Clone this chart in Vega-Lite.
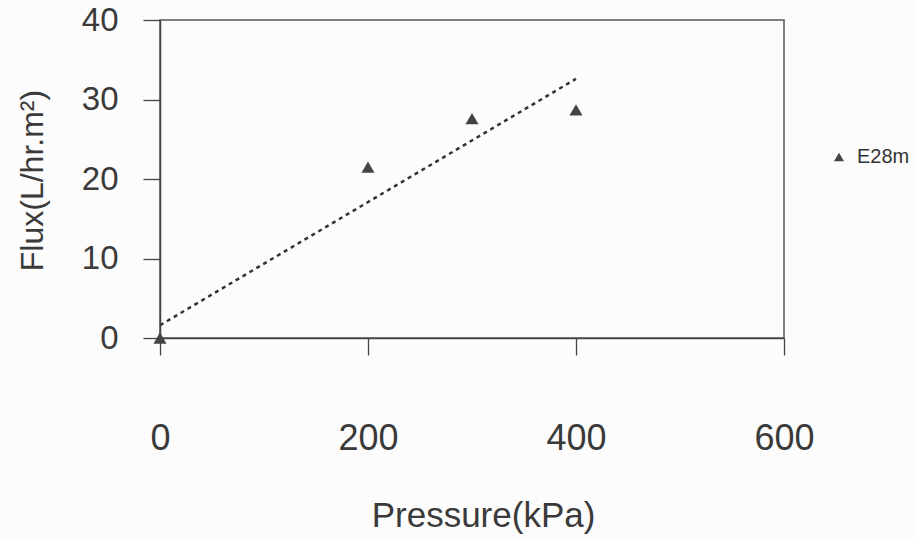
{
  "$schema": "https://vega.github.io/schema/vega-lite/v6.json",
  "width": 624,
  "height": 318,
  "autosize": "none",
  "padding": {"left": 160, "top": 20, "right": 132, "bottom": 202},
  "background": "#fcfcfc",
  "config": {
    "font": "Liberation Sans",
    "view": {"stroke": "#555555", "strokeWidth": 1.5},
    "axis": {
      "grid": false,
      "labelFlush": false,
      "labelOverlap": false,
      "domainColor": "#444444",
      "domainWidth": 1.5,
      "tickColor": "#444444",
      "tickWidth": 1.3,
      "labelColor": "#3a3a3a",
      "titleColor": "#3a3a3a",
      "labelFont": "Liberation Sans",
      "titleFont": "Liberation Sans",
      "titleFontWeight": "normal"
    }
  },
  "datasets": {
    "points": [
      {"pressure": 0, "flux": 0, "series": "E28m"},
      {"pressure": 200, "flux": 21.5, "series": "E28m"},
      {"pressure": 300, "flux": 27.6, "series": "E28m"},
      {"pressure": 400, "flux": 28.7, "series": "E28m"}
    ],
    "trend": [
      {"pressure": 0, "flux": 1.6},
      {"pressure": 400, "flux": 32.6}
    ]
  },
  "layer": [
    {
      "data": {"name": "trend"},
      "mark": {"type": "line", "color": "#333333", "strokeWidth": 2.5, "strokeDash": [4, 4]},
      "encoding": {
        "x": {
          "field": "pressure",
          "type": "quantitative",
          "scale": {"domain": [0, 600], "nice": false, "zero": false},
          "axis": {
            "values": [0, 200, 400, 600],
            "tickSize": 17,
            "labelPadding": 83,
            "labelBaseline": "middle",
            "labelFontSize": 36,
            "title": "Pressure(kPa)",
            "titleFontSize": 35,
            "titleX": 323,
            "titleY": 177,
            "titleBaseline": "middle"
          }
        },
        "y": {
          "field": "flux",
          "type": "quantitative",
          "scale": {"domain": [0, 40], "nice": false, "zero": false},
          "axis": {
            "values": [0, 10, 20, 30, 40],
            "tickSize": 17,
            "labelPadding": 25,
            "labelBaseline": "middle",
            "labelFontSize": 33,
            "title": "Flux(L/hr.m²)",
            "titleFontSize": 32,
            "titleX": -118,
            "titleY": 160,
            "titleAngle": -90,
            "titleAlign": "center",
            "titleBaseline": "alphabetic"
          }
        }
      }
    },
    {
      "data": {"name": "points"},
      "mark": {"type": "point", "shape": "triangle-up", "filled": true, "size": 170, "opacity": 1},
      "encoding": {
        "x": {"field": "pressure", "type": "quantitative"},
        "y": {"field": "flux", "type": "quantitative"},
        "color": {
          "field": "series",
          "type": "nominal",
          "scale": {"range": ["#444444"]},
          "legend": {
            "title": null,
            "orient": "none",
            "legendX": 669,
            "legendY": 127,
            "symbolType": "triangle-up",
            "symbolSize": 100,
            "symbolOpacity": 1,
            "labelOffset": 8,
            "labelFontSize": 20,
            "labelColor": "#333333",
            "labelFont": "Liberation Sans"
          }
        }
      }
    }
  ]
}
